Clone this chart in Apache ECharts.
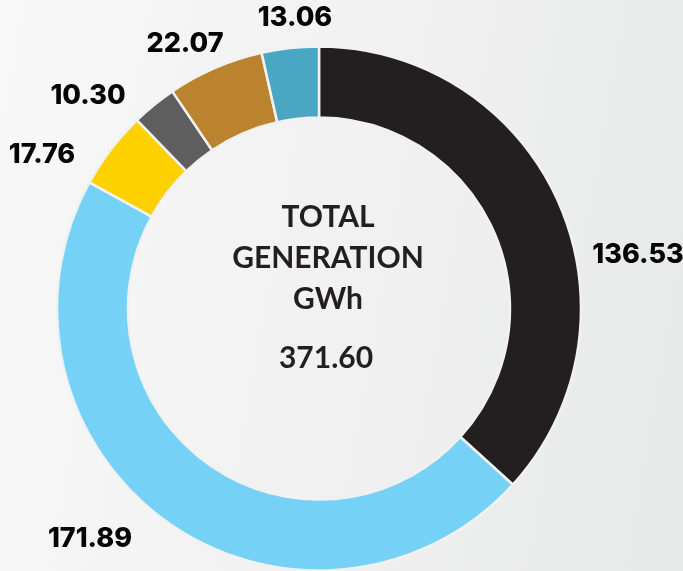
<!DOCTYPE html>
<html>
<head>
<meta charset="utf-8">
<title>Total generation</title>
<script src="https://cdn.jsdelivr.net/npm/echarts@6.0.0/dist/echarts.min.js"></script>
<style>
  html, body { margin: 0; padding: 0; }
  body {
    width: 683px; height: 571px; overflow: hidden;
    background: linear-gradient(100deg, #f8f8f8 0%, #f1f1f1 50%, #e7e8e8 100%);
  }
  #chart { width: 683px; height: 571px; }
</style>
</head>
<body>
<div id="chart"></div>
<script>
// generation by source, GWh (clockwise from 12 o'clock)
var sources = ["Black", "Light blue", "Yellow", "Grey", "Brown", "Teal"];
var generation = [136.53, 171.89, 17.76, 10.30, 22.07, 13.06];
var totalGeneration = "371.60";

var colors = ["#231f20", "#76d1f7", "#fdd000", "#5e5e5e", "#bb832e", "#4aa7c3"];
// where each value label sits in the picture (label centre, px)
var labelSpots = [[638, 255], [90, 539], [42, 155], [88, 96], [185, 44], [295, 18]];

var chart = echarts.init(document.getElementById("chart"));

var option = {
  backgroundColor: "transparent",
  animation: false,
  color: colors,
  graphic: [
    {
      type: "text",
      style: {
        x: 328, y: 258,
        text: "TOTAL\nGENERATION\nGWh",
        fill: "#231f20",
        font: "bold 30px Lato",
        lineHeight: 41,
        align: "center",
        verticalAlign: "middle"
      }
    },
    {
      type: "text",
      style: {
        x: 326, y: 358,
        text: totalGeneration,
        fill: "#231f20",
        font: "bold 30px Lato",
        align: "center",
        verticalAlign: "middle"
      }
    }
  ],
  series: [
    {
      type: "pie",
      center: [319, 308.5],
      radius: [191, 262],
      startAngle: 90,
      clockwise: true,
      avoidLabelOverlap: false,
      itemStyle: { borderColor: "#f1f1f1", borderWidth: 2.5 },
      label: {
        show: true,
        position: "outside",
        formatter: function (p) { return p.value.toFixed(2); },
        color: "#050505",
        fontFamily: "Inter",
        fontWeight: 800,
        fontSize: 27
      },
      labelLine: { show: false },
      labelLayout: function (params) {
        var s = labelSpots[params.dataIndex];
        return { x: s[0], y: s[1], align: "center", verticalAlign: "middle" };
      },
      emphasis: { disabled: true },
      data: sources.map(function (name, i) {
        return { name: name, value: generation[i] };
      })
    }
  ]
};

chart.setOption(option);
</script>
</body>
</html>
